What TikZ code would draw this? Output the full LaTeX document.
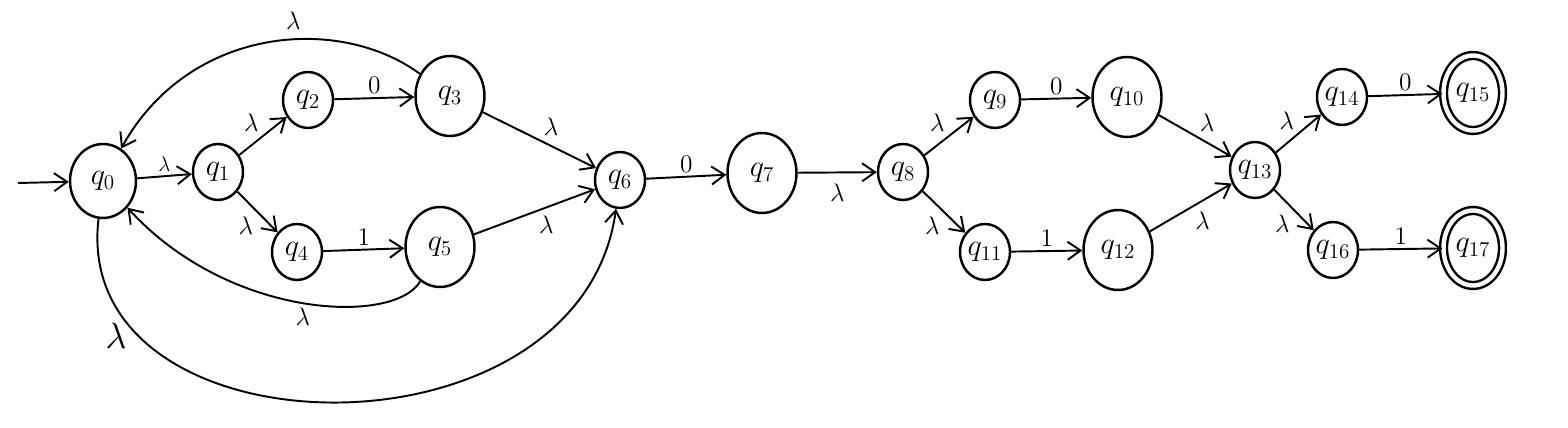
\documentclass[tikz,border=0pt]{standalone}
\usetikzlibrary{arrows.meta,shapes.geometric}

\begin{document}
\begin{tikzpicture}[
  x=0.02cm, y=-0.02cm,
  font=\Large,
  state/.style={ellipse, draw, line width=1.4pt, inner sep=-3pt, font=\LARGE,
                minimum width=1cm, minimum height=1.12cm},
  firststate/.style={state, minimum width=1.32cm, minimum height=1.48cm},
  bigstate/.style={state, minimum width=1.38cm, minimum height=1.6cm},
  accept/.style={state, double, double distance=2.5pt,
                 minimum width=1.18cm, minimum height=1.5cm},
  lab/.style={inner sep=2pt},
  arr/.style={-{Straight Barb[length=2.6mm, width=3.6mm]}, line width=1.1pt}
]
\useasboundingbox (0,0) rectangle (1568,428);

% ---------- states ----------
\node[firststate] (q0)  at (103,181)  {$q_0$};
\node[state]      (q1)  at (218,172)  {$q_1$};
\node[state]      (q2)  at (308,100)  {$q_2$};
\node[bigstate]   (q3)  at (450,96)   {$q_3$};
\node[state]      (q4)  at (297,252)  {$q_4$};
\node[bigstate]   (q5)  at (440,247)  {$q_5$};
\node[state]      (q6)  at (620,180)  {$q_6$};
\node[bigstate]   (q7)  at (762,173)  {$q_7$};
\node[state]      (q8)  at (903,172)  {$q_8$};
\node[state]      (q9)  at (995,100)  {$q_9$};
\node[bigstate]   (q10) at (1127,97)  {$q_{10}$};
\node[state]      (q11) at (985,252)  {$q_{11}$};
\node[bigstate]   (q12) at (1118,250) {$q_{12}$};
\node[state]      (q13) at (1255,170) {$q_{13}$};
\node[state]      (q14) at (1342,97)  {$q_{14}$};
\node[accept]     (q15) at (1473,93)  {$q_{15}$};
\node[state]      (q16) at (1333,250) {$q_{16}$};
\node[accept]     (q17) at (1473,248) {$q_{17}$};

\coordinate (start) at (18,183);

% ---------- transitions ----------
\draw[arr] (start) -- (q0);
\draw[arr] (q0) -- node[lab, above, font=\large]{$\lambda$} (q1);
\draw[arr] (q1) -- node[lab, above left]{$\lambda$} (q2);
\draw[arr] (q1) -- node[lab, below left]{$\lambda$} (q4);
\draw[arr] (q2) -- node[lab, above]{$0$} (q3);
\draw[arr] (q4) -- node[lab, above]{$1$} (q5);
\draw[arr] (q3) -- node[lab, above right]{$\lambda$} (q6);
\draw[arr] (q5) -- node[lab, below right]{$\lambda$} (q6);

\draw[arr] (q3) .. controls (340,15) and (190,25) ..
  node[lab, pos=0.42, above=3pt]{$\lambda$} (q0);
\draw[arr] (q5) .. controls (395,325) and (230,320) .. node[lab, below]{$\lambda$} (q0);
\draw[arr] (q0) .. controls (70,460) and (580,470) ..
  node[lab, pos=0.2, left=4pt, font=\huge]{$\lambda$} (q6);

\draw[arr] (q6) -- node[lab, above]{$0$} (q7);
\draw[arr] (q7) -- node[lab, below=4pt]{$\lambda$} (q8);
\draw[arr] (q8) -- node[lab, above left]{$\lambda$} (q9);
\draw[arr] (q8) -- node[lab, below left]{$\lambda$} (q11);
\draw[arr] (q9) -- node[lab, above]{$0$} (q10);
\draw[arr] (q11) -- node[lab, above]{$1$} (q12);
\draw[arr] (q10) -- node[lab, above right]{$\lambda$} (q13);
\draw[arr] (q12) -- node[lab, below right]{$\lambda$} (q13);
\draw[arr] (q13) -- node[lab, above left]{$\lambda$} (q14);
\draw[arr] (q13) -- node[lab, below left]{$\lambda$} (q16);
\draw[arr] (q14) -- node[lab, above]{$0$} (q15);
\draw[arr] (q16) -- node[lab, above]{$1$} (q17);

\end{tikzpicture}
\end{document}
